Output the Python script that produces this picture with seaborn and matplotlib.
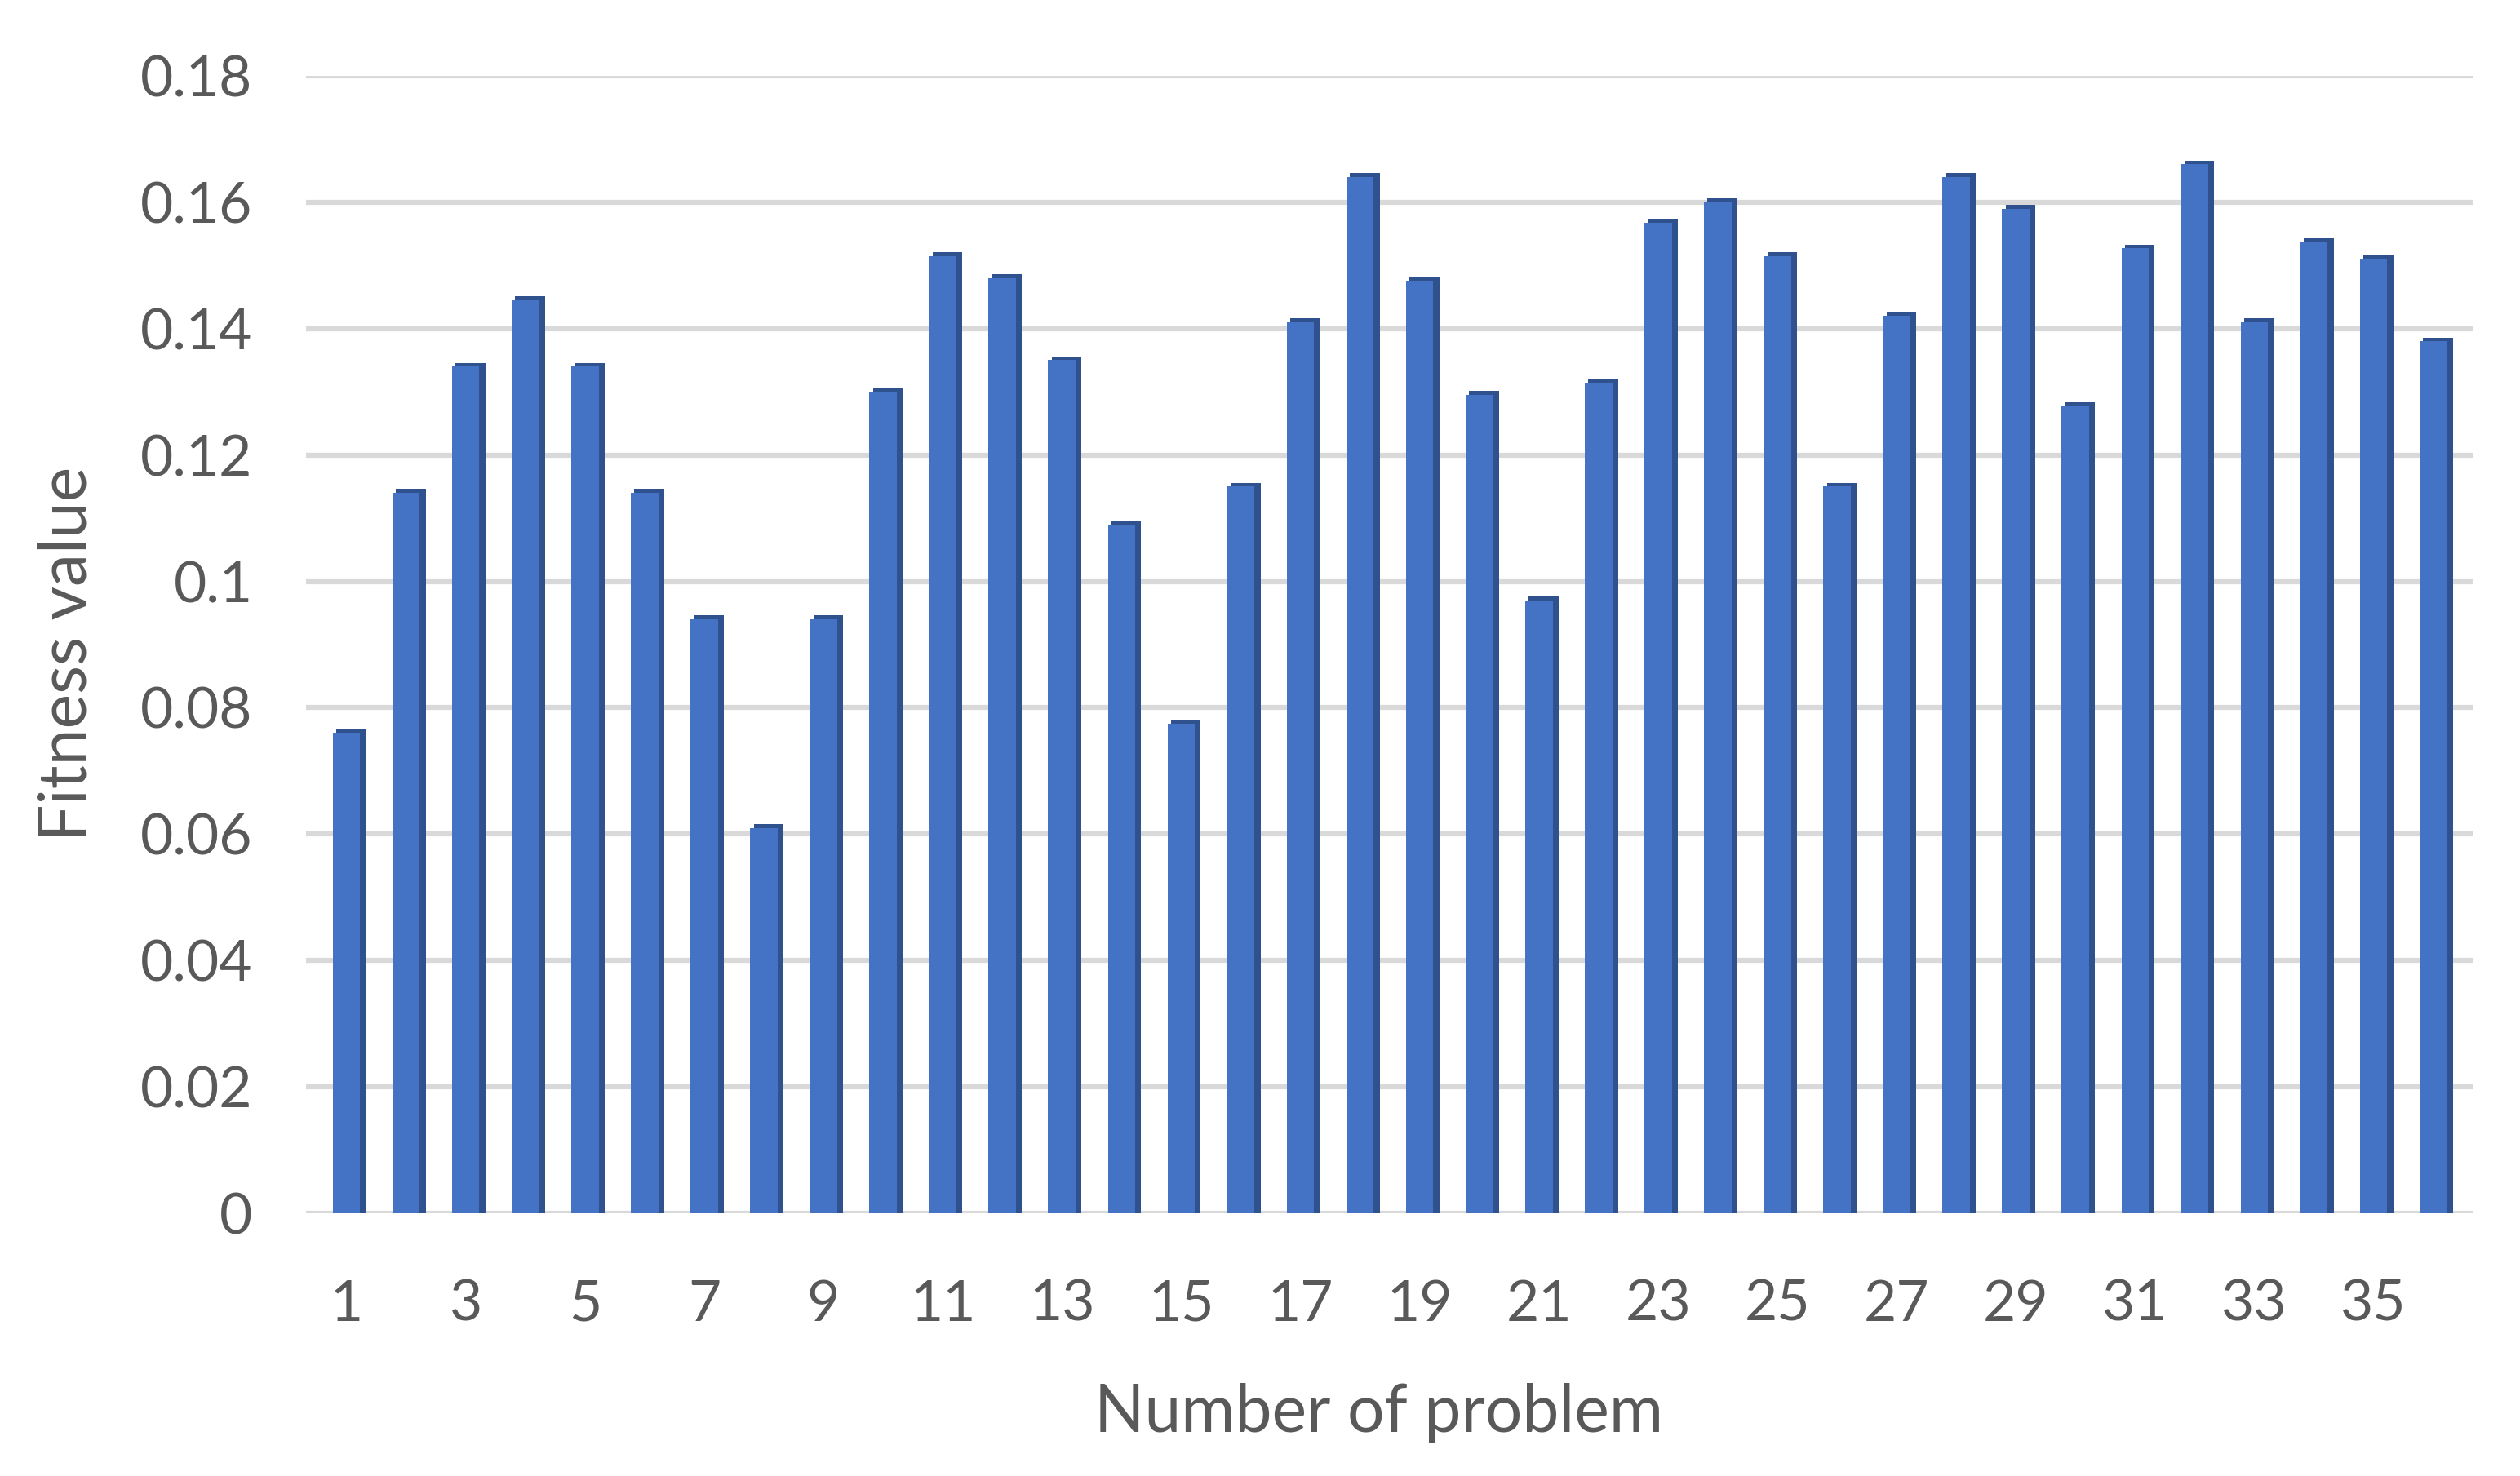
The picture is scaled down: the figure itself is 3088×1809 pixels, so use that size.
import numpy as np
import pandas as pd
import matplotlib
matplotlib.use("Agg")
import matplotlib.pyplot as plt
import seaborn as sns

problems = list(range(1, 37))
fitness = [0.076, 0.114, 0.134, 0.1445, 0.134, 0.114, 0.094, 0.061, 0.094, 0.130,
           0.1515, 0.148, 0.135, 0.109, 0.0775, 0.115, 0.141, 0.164, 0.1475, 0.1295,
           0.097, 0.1315, 0.1567, 0.160, 0.1515, 0.115, 0.142, 0.164, 0.159, 0.1277,
           0.1527, 0.166, 0.141, 0.1537, 0.151, 0.138]
y_ticks = [0, 0.02, 0.04, 0.06, 0.08, 0.1, 0.12, 0.14, 0.16, 0.18]
y_tick_labels = ["0", "0.02", "0.04", "0.06", "0.08", "0.1", "0.12", "0.14", "0.16", "0.18"]
x_label = "Number of problem"
y_label = "Fitness value"

sns.set_theme(style="white")
plt.rcParams['font.family'] = ['Lato', 'DejaVu Sans']

df = pd.DataFrame({"problem": problems, "fitness": fitness})

fig = plt.figure(figsize=(30.88, 18.09), dpi=100)
ax = fig.add_axes([0.1214, 0.178, 0.860, 0.7706])

# 3D-like darker side face behind the front face
pos = np.arange(len(problems))
ax.bar(pos + 0.08, np.array(fitness) + 0.0006, width=0.5, color="#2F528F",
       linewidth=0, zorder=2)
sns.barplot(data=df, x="problem", y="fitness", color="#4472C4", saturation=1,
            width=0.46, ax=ax, zorder=3, linewidth=0)

ax.set_ylim(0, 0.18)
ax.set_xlim(-0.68, len(problems) - 1 + 0.67)
ax.set_yticks(y_ticks)
ax.set_yticklabels(y_tick_labels)
ax.set_xticks(pos[::2])
ax.set_xticklabels([str(p) for p in problems[::2]])

ax.yaxis.grid(True, color="#D9D9D9", linewidth=4.5, zorder=0)
ax.xaxis.grid(False)
ax.set_axisbelow(True)
for s in ax.spines.values():
    s.set_visible(False)

ax.tick_params(axis="y", length=0, pad=47, labelsize=50, labelcolor="#595959")
ax.tick_params(axis="x", length=0, pad=58, labelsize=50, labelcolor="#595959")

ax.set_xlabel(x_label, fontsize=58, color="#595959", va="center")
ax.set_ylabel(y_label, fontsize=58, color="#595959", va="center")
ax.xaxis.set_label_coords(0.495, -0.176)
ax.yaxis.set_label_coords(-0.110, 0.492)

fig.savefig("out.png", dpi=100, facecolor="white")
